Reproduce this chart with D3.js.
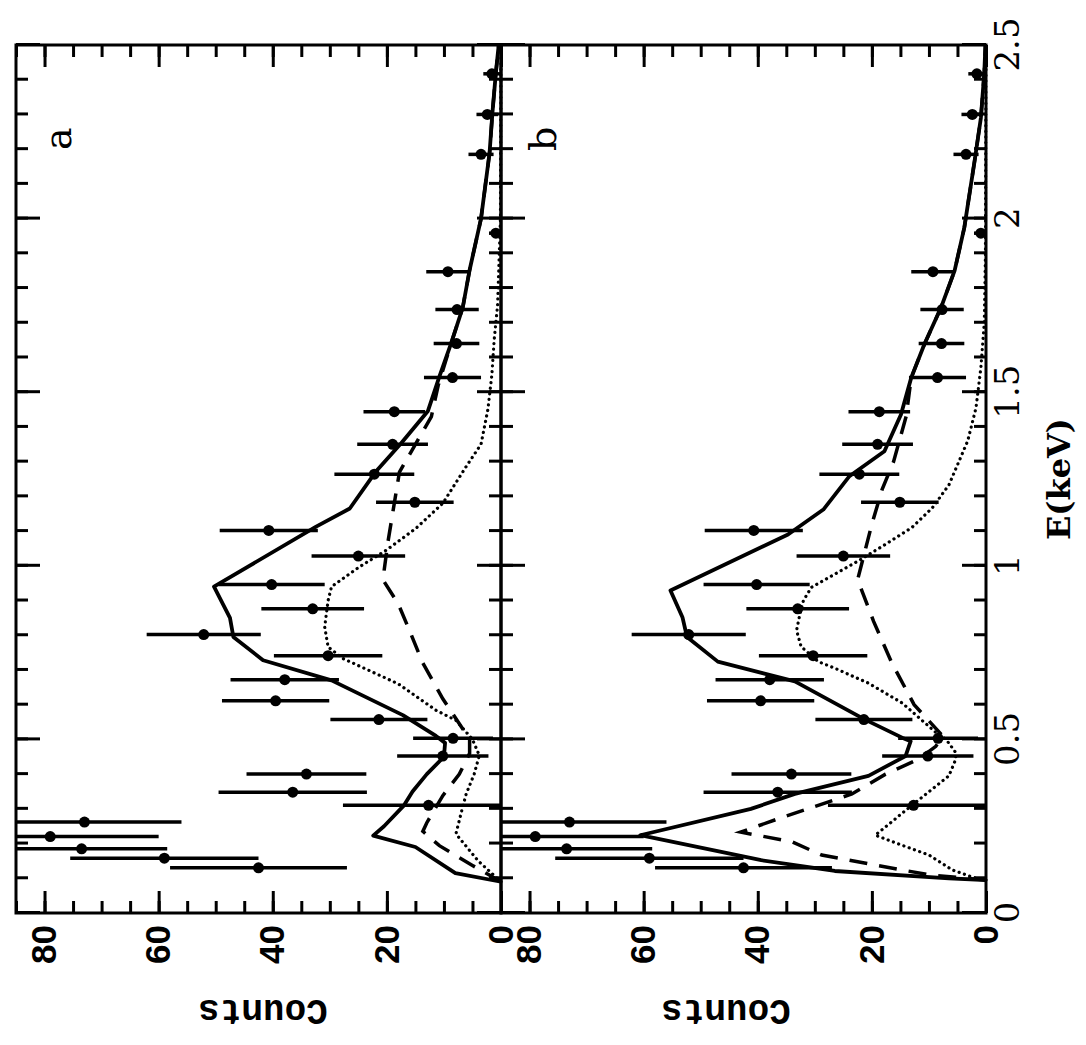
<!DOCTYPE html>
<html>
<head>
<meta charset="utf-8">
<script src="https://cdn.jsdelivr.net/npm/d3@7"></script>
<style>
  html, body { margin: 0; padding: 0; background: #fff; }
  svg { display: block; }
</style>
</head>
<body>
<div id="chart"></div>
<script>
// observed spectrum (same points in both panels)
const obsE = [0.13, 0.158, 0.185, 0.22, 0.262, 0.31, 0.348, 0.40, 0.452, 0.503, 0.557, 0.611, 0.672, 0.741, 0.802, 0.876, 0.946, 1.028, 1.102, 1.183, 1.264, 1.35, 1.444, 1.542, 1.64, 1.738, 1.847, 1.958, 2.185, 2.3, 2.417];
const obsCounts = [42.5, 59, 73.5, 79, 73, 12.7, 36.5, 34.1, 10.2, 8.4, 21.4, 39.5, 37.9, 30.3, 52.1, 33, 40.2, 25, 40.7, 15.1, 22.2, 19, 18.7, 8.5, 7.8, 7.7, 9.3, 0.9, 3.5, 2.4, 1.6];
const obsErr = [15.5, 16.5, 15, 19, 17, 15, 13, 10.5, 8, 7, 8.5, 9.4, 9.5, 9.5, 10, 9, 9.3, 8.2, 8.6, 6.8, 7, 6.2, 5.4, 5, 4, 3.8, 3.8, 1.2, 2.2, 1.9, 1.5];

// model curves [E (keV), counts]
const aSolid = [[0.09,0],[0.115,8],[0.19,15],[0.223,22.4],[0.25,20.5],[0.31,17],[0.35,15.5],[0.4,13],[0.45,10],[0.49,9.8],[0.51,11.4],[0.57,17.2],[0.67,29.7],[0.728,41.7],[0.795,46.9],[0.85,47.5],[0.94,50.3],[1.113,32.4],[1.165,26.5],[1.27,22],[1.353,17.5],[1.446,12.8],[1.545,10.8],[1.643,8.7],[1.744,6.7],[1.852,5.5],[2.0,3.5],[2.19,2.0],[2.305,1.5],[2.42,0.9],[2.5,0.4]];
const aDashed = [[0.09,0],[0.137,5],[0.194,10.8],[0.235,13.7],[0.26,13],[0.338,10.2],[0.4,7.3],[0.46,5.5],[0.5,5.5],[0.617,10.2],[0.72,13.7],[0.824,16.3],[0.89,18],[0.96,20.7],[1.07,19.8],[1.27,17.8],[1.35,15],[1.43,12.2],[1.52,11],[1.643,8.7],[1.744,6.7],[1.852,5.5],[2.0,3.5],[2.19,2.0],[2.305,1.5],[2.42,0.9],[2.5,0.4]];
const aDotted = [[0.09,0],[0.15,4],[0.228,7.9],[0.3,6.8],[0.343,6.1],[0.4,4.7],[0.454,3.8],[0.5,5],[0.555,7.9],[0.584,11.4],[0.66,18],[0.733,27.7],[0.766,30.3],[0.824,30.9],[0.9,30.3],[0.94,29.7],[0.997,24.8],[1.045,20.1],[1.108,14.9],[1.18,10.2],[1.286,6.1],[1.35,3.5],[1.45,2.3],[1.55,1.6],[1.65,1.2],[1.75,0.6],[1.9,0.3],[2.0,0.1],[2.5,0]];

const bSolid = [[0.095,0],[0.1,6.5],[0.121,26.5],[0.152,39.4],[0.224,60.6],[0.3,41.2],[0.343,33.5],[0.395,20.6],[0.452,14.1],[0.495,13.2],[0.505,14.7],[0.557,21.2],[0.667,33.5],[0.724,47],[0.795,52.4],[0.852,53.2],[0.929,55.3],[1.09,34.7],[1.162,28.5],[1.257,24],[1.33,17.8],[1.436,14.9],[1.542,13.1],[1.638,10.8],[1.743,7.9],[1.85,5.5],[1.974,3.8],[2.166,2],[2.29,0.9],[2.42,0.3],[2.5,0.1]];
const bDashed = [[0.095,0],[0.11,10],[0.138,19.4],[0.167,28.8],[0.205,34],[0.233,43],[0.271,36.5],[0.31,29.4],[0.343,23.5],[0.4,17.6],[0.443,11.8],[0.48,8.8],[0.51,7.6],[0.6,12.6],[0.72,16.5],[0.84,19.7],[0.96,22.5],[1.12,20],[1.22,18.2],[1.3,16.2],[1.43,14],[1.542,13.1],[1.638,10.8],[1.743,7.9],[1.85,5.5],[1.974,3.8],[2.166,2],[2.29,0.9],[2.42,0.3],[2.5,0.1]];
const bDotted = [[0.095,0],[0.1,1.8],[0.124,5.9],[0.167,10],[0.195,14.7],[0.224,19.4],[0.271,15.9],[0.31,13],[0.357,9.4],[0.395,6.5],[0.443,5.3],[0.462,5.3],[0.5,7],[0.52,8.8],[0.605,14.7],[0.662,20.6],[0.705,26.5],[0.724,29.4],[0.767,32.4],[0.814,33.2],[0.862,32.6],[0.9,32],[0.938,30.6],[0.976,26.5],[1.014,22.4],[1.062,17.6],[1.11,13],[1.167,9.4],[1.233,6.5],[1.36,3.2],[1.455,1.75],[1.57,0.9],[1.7,0.3],[1.9,0.1],[2.5,0]];

const eMajor = [0, 0.5, 1, 1.5, 2, 2.5];
const eMinor = d3.range(0, 26).map(i => i / 10);
const cMajor = [0, 20, 40, 60, 80];
const cMinor = d3.range(0, 18).map(i => i * 5);

// the figure is drawn upright and then turned a quarter turn, like the scan
const W = 868, PH = 485;
const svg = d3.select("#chart").append("svg")
    .attr("width", 1086)
    .attr("height", 1045);
svg.append("rect").attr("width", 1086).attr("height", 1045).attr("fill", "#fff");

const g = svg.append("g").attr("transform", "translate(16,913) rotate(-90)");

const x = d3.scaleLinear().domain([0, 2.5]).range([0, W]);

const panels = [
  { name: "a", y0: 0, solid: aSolid, dashed: aDashed, dotted: aDotted },
  { name: "b", y0: PH, solid: bSolid, dashed: bDashed, dotted: bDotted }
];

function styleAxis(sel) {
  sel.select(".domain").remove();
  sel.selectAll(".tick line").attr("stroke", "#000").attr("stroke-width", 3);
}

panels.forEach((p, pi) => {
  const y = d3.scaleLinear().domain([0, 85]).range([p.y0 + PH, p.y0]);

  // E ticks, bottom and top of each panel (inward)
  g.append("g").attr("transform", `translate(0,${p.y0 + PH})`)
    .call(d3.axisBottom(x).tickValues(eMinor).tickSize(-12).tickFormat(""))
    .call(styleAxis);
  const eb = g.append("g").attr("transform", `translate(0,${p.y0 + PH})`)
    .call(d3.axisBottom(x).tickValues(eMajor).tickSize(-24).tickPadding(9)
      .tickFormat(pi === 1 ? d => String(d) : ""))
    .call(styleAxis);
  eb.selectAll("text")
    .attr("fill", "#000")
    .style("font-family", "'DejaVu Serif', serif")
    .style("font-size", "34px");

  g.append("g").attr("transform", `translate(0,${p.y0})`)
    .call(d3.axisTop(x).tickValues(eMinor).tickSize(-12).tickFormat(""))
    .call(styleAxis);
  g.append("g").attr("transform", `translate(0,${p.y0})`)
    .call(d3.axisTop(x).tickValues(eMajor).tickSize(-24).tickFormat(""))
    .call(styleAxis);

  // Counts ticks, left (labelled) and right
  g.append("g")
    .call(d3.axisLeft(y).tickValues(cMinor).tickSize(-12).tickFormat(""))
    .call(styleAxis);
  const cl = g.append("g")
    .call(d3.axisLeft(y).tickValues(cMajor).tickSize(-22).tickPadding(12))
    .call(styleAxis);
  cl.selectAll("text")
    .attr("fill", "#000")
    .style("font-family", "'Liberation Sans', Arial, sans-serif")
    .style("font-weight", "bold")
    .style("font-size", "35px");

  g.append("g").attr("transform", `translate(${W},0)`)
    .call(d3.axisRight(y).tickValues(cMinor).tickSize(-12).tickFormat(""))
    .call(styleAxis);
  g.append("g").attr("transform", `translate(${W},0)`)
    .call(d3.axisRight(y).tickValues(cMajor).tickSize(-22).tickFormat(""))
    .call(styleAxis);

  // frame
  g.append("rect")
    .attr("x", 0).attr("y", p.y0)
    .attr("width", W).attr("height", PH)
    .attr("fill", "none").attr("stroke", "#000").attr("stroke-width", 3);

  // model curves
  const line = d3.line().x(d => x(d[0])).y(d => y(d[1]));
  g.append("path").datum(p.dotted).attr("d", line)
    .attr("fill", "none").attr("stroke", "#000").attr("stroke-width", 3.2)
    .attr("stroke-linecap", "round").attr("stroke-dasharray", "0.1,5.5");
  g.append("path").datum(p.dashed).attr("d", line)
    .attr("fill", "none").attr("stroke", "#000").attr("stroke-width", 3.5)
    .attr("stroke-dasharray", "18,12");
  g.append("path").datum(p.solid).attr("d", line)
    .attr("fill", "none").attr("stroke", "#000").attr("stroke-width", 3.8)
    .attr("stroke-linejoin", "round");

  // data points with error bars
  const pts = g.append("g");
  pts.selectAll("line.err")
    .data(obsE)
    .enter()
    .append("line")
    .attr("class", "err")
    .attr("x1", d => x(d)).attr("x2", d => x(d))
    .attr("y1", (d, i) => y(Math.max(0, obsCounts[i] - obsErr[i])))
    .attr("y2", (d, i) => y(Math.min(85, obsCounts[i] + obsErr[i])))
    .attr("stroke", "#000").attr("stroke-width", 3.5);
  pts.selectAll("circle")
    .data(obsE)
    .enter()
    .append("circle")
    .attr("cx", d => x(d))
    .attr("cy", (d, i) => y(obsCounts[i]))
    .attr("r", 5.5);

  // panel letter
  g.append("text")
    .attr("x", x(2.23)).attr("y", p.y0 + 55)
    .attr("text-anchor", "middle")
    .style("font-family", "'DejaVu Serif', serif")
    .style("font-size", "38px")
    .text(p.name);

  // y title
  g.append("text")
    .attr("transform", `translate(-87,${p.y0 + (pi === 0 ? 247 : 225)}) rotate(-90)`)
    .attr("text-anchor", "middle")
    .style("font-family", "'Liberation Mono', monospace")
    .style("font-weight", "bold")
    .style("font-size", "36px")
    .text("Counts");
});

// x title
g.append("text")
  .attr("x", x(1.25)).attr("y", 2 * PH + 84)
  .attr("text-anchor", "middle")
  .style("font-family", "'DejaVu Serif', serif")
  .style("font-weight", "bold")
  .style("font-size", "32px")
  .text("E(keV)");
</script>
</body>
</html>
